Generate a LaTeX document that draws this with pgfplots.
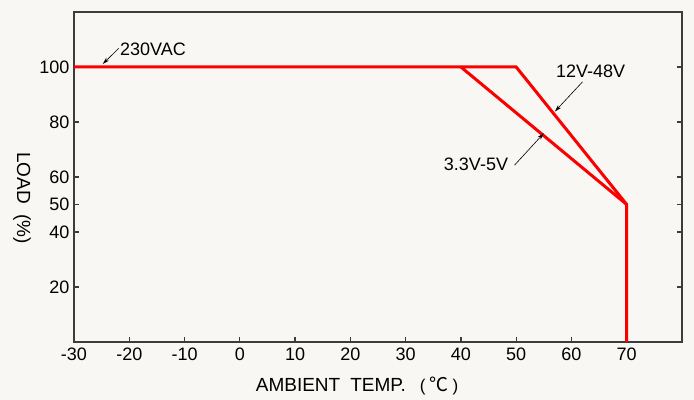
\documentclass[border=0pt]{standalone}
\usepackage{fontspec}
\setmainfont{Liberation Sans}
\newfontfamily\cjk{Noto Sans CJK SC}
\usepackage{pgfplots}
\pgfplotsset{compat=1.18}
\usetikzlibrary{arrows.meta,backgrounds}
\definecolor{bgc}{RGB}{248,247,243}
\definecolor{axc}{RGB}{60,60,60}
\definecolor{lred}{RGB}{250,0,0}
\begin{document}
\begin{tikzpicture}[x=1pt,y=1pt]
\begin{axis}[
  scale only axis,
  width=608pt, height=330pt,
  xmin=-30, xmax=80, ymin=0, ymax=120,
  xtick={-30,-20,...,70},
  ytick={20,40,50,60,80,100},
  tick align=inside,
  xtick pos=bottom,
  ytick pos=both,
  major tick length=5pt,
  axis line style={axc, line width=1.2pt},
  tick style={axc, line width=1.2pt},
  /pgf/number format/assume math mode=true,
  ticklabel style={font=\fontsize{18}{21}\selectfont, text=black},
  xticklabel style={yshift=-2pt},
  yticklabel style={xshift=-1pt},
  xlabel={AMBIENT\hspace{10pt}TEMP.\hspace{14pt}{\fontsize{17}{17}\selectfont(}\hspace{4pt}{\cjk\fontsize{19}{19}\selectfont ℃}\hspace{4pt}{\fontsize{17}{17}\selectfont)}},
  ylabel={LOAD\ \ (\%)},
  label style={font=\fontsize{19}{22}\selectfont},
  xlabel style={at={(rel axis cs:0.4655,0)}, anchor=base, yshift=-50pt},
  ylabel style={at={(rel axis cs:-0.0855,0.436)}, anchor=center, rotate=180},
  clip=false,
]
\addplot[lred, line width=3pt, line join=miter] coordinates {(-30,100) (50,100) (70,50) (70,0)};
\addplot[lred, line width=3pt, line join=miter] coordinates {(40,100) (70,50)};
\draw[black, line width=0.6pt, -{Stealth[length=7pt,width=4pt]}] (axis cs:-21.9,106.8) -- (axis cs:-24.8,101.1);
\node[anchor=base west, font=\fontsize{18}{21}\selectfont, inner sep=0pt] at (axis cs:-21.7,104.3) {230VAC};
\draw[black, line width=0.6pt, -{Stealth[length=7pt,width=4pt]}] (axis cs:62.0,94.6) -- (axis cs:57.0,83.8);
\node[anchor=base west, font=\fontsize{18}{21}\selectfont, inner sep=0pt] at (axis cs:57.2,96.0) {12V-48V};
\draw[black, line width=0.6pt, -{Stealth[length=7pt,width=4pt]}] (axis cs:49.7,64.3) -- (axis cs:55.0,75.9);
\node[anchor=base west, font=\fontsize{18}{21}\selectfont, inner sep=0pt] at (axis cs:36.9,62.2) {3.3V-5V};
\coordinate (bl) at (rel axis cs:0,0);
\coordinate (tr) at (rel axis cs:1,1);
\end{axis}
\begin{scope}[on background layer]
\fill[bgc] ([shift={(-74pt,-58pt)}]bl) rectangle ([shift={(12pt,12pt)}]tr);
\end{scope}
\end{tikzpicture}
\end{document}
